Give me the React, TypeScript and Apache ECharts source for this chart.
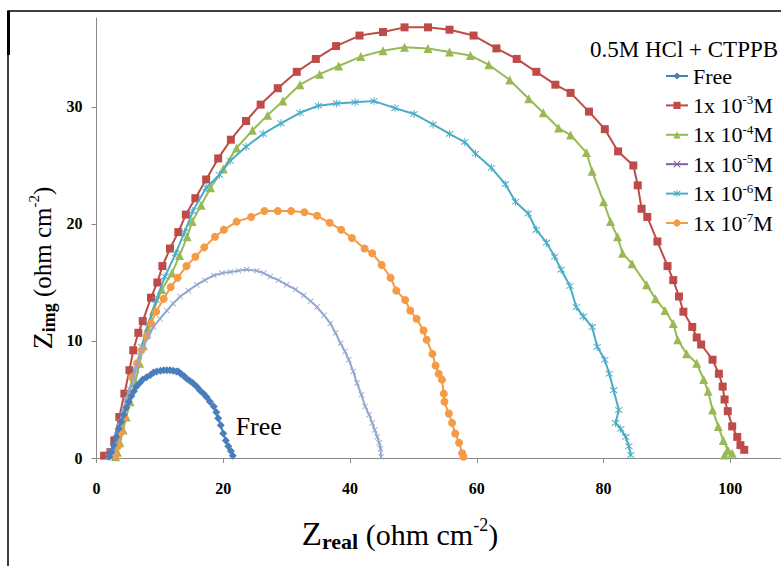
import React, { useEffect, useRef } from 'react';
import * as echarts from 'echarts';

const FONT = "'Liberation Serif', 'Times New Roman', serif";

const titleText = '0.5M HCl + CTPPB';
const seriesNames = ['Free', '1x 10-3M', '1x 10-4M', '1x 10-5M', '1x 10-6M', '1x 10-7M'];
const xTickValues = [0, 20, 40, 60, 80, 100];
const yTickValues = [0, 10, 20, 30];

const freeData = [
  [2.0, 0.1], [2.3, 0.5], [2.7, 1.1], [3.1, 1.8], [3.5, 2.5], [3.9, 3.1], [4.3, 3.7], [4.7, 4.3],
  [5.1, 4.8], [5.5, 5.3], [5.9, 5.7], [6.3, 6.1], [6.8, 6.4], [7.3, 6.7], [7.9, 6.9], [8.5, 7.1],
  [9.0, 7.3], [9.5, 7.4], [10.1, 7.45], [10.6, 7.5], [11.1, 7.5], [11.6, 7.5], [12.1, 7.45], [12.6, 7.4],
  [12.9, 7.4], [13.3, 7.2], [13.8, 7.0], [14.2, 6.8], [14.7, 6.6], [15.2, 6.4], [15.8, 6.1], [16.3, 5.8],
  [16.9, 5.5], [17.4, 5.2], [17.9, 4.8], [18.5, 4.4], [18.9, 3.9], [19.2, 3.4], [19.6, 2.8], [20.0, 2.1],
  [20.4, 1.5], [20.8, 1.0], [21.2, 0.6], [21.5, 0.2],
];

const m3Data = [
  [1.2, 0.2], [2.2, 0.5], [2.8, 1.5], [3.6, 3.5], [4.4, 5.5], [5.2, 7.5], [5.8, 9.2], [6.6, 10.7],
  [7.3, 11.7], [8.6, 13.7], [9.6, 15.0], [10.4, 16.4], [11.6, 17.9], [12.9, 19.3], [14.1, 20.8], [15.6, 22.2],
  [17.3, 23.8], [19.2, 25.6], [21.2, 27.2], [23.6, 28.8], [25.9, 30.2], [28.6, 31.6], [31.6, 33.0], [34.6, 34.1],
  [37.8, 35.2], [41.5, 36.1], [45.2, 36.4], [48.6, 36.8], [52.3, 36.8], [55.7, 36.6], [59.5, 36.1], [63.1, 35.0],
  [66.3, 34.1], [69.4, 33.0], [72.4, 31.9], [74.8, 31.2], [77.7, 29.6], [80.2, 28.1], [82.3, 26.2], [84.7, 25.0],
  [85.4, 23.3], [86.0, 21.3], [86.9, 20.6], [88.5, 18.5], [90.1, 16.4], [91.0, 15.2], [91.9, 13.8], [92.6, 12.5],
  [94.0, 11.2], [94.7, 10.3], [95.4, 9.7], [97.2, 8.4], [98.2, 7.2], [98.8, 6.1], [99.1, 5.0], [99.6, 4.0],
  [100.3, 2.7], [101.1, 1.8], [101.6, 1.1], [102.2, 0.7],
];

const m4Data = [
  [3.0, 0.1], [3.3, 0.5], [3.7, 1.3], [4.2, 2.4], [4.7, 3.5], [5.3, 4.8], [6.1, 6.4], [6.8, 8.1],
  [7.4, 9.6], [8.1, 11.1], [9.0, 12.6], [10.3, 14.4], [11.9, 15.8], [13.1, 17.3], [14.3, 18.9], [15.1, 20.2],
  [16.5, 21.6], [18.0, 23.1], [20.0, 24.7], [22.1, 26.5], [24.6, 28.0], [27.0, 29.3], [29.4, 30.5], [32.1, 31.9],
  [35.2, 32.8], [38.2, 33.5], [41.7, 34.3], [45.2, 34.8], [48.6, 35.1], [52.3, 35.0], [55.7, 34.7], [59.0, 34.4],
  [61.9, 33.6], [65.2, 32.3], [68.2, 30.7], [70.5, 29.5], [72.9, 28.2], [74.8, 27.6], [77.3, 26.1], [78.2, 24.5],
  [80.0, 21.9], [81.1, 20.2], [82.2, 18.9], [83.0, 17.5], [84.5, 16.6], [86.8, 14.8], [88.2, 13.6], [89.7, 12.6],
  [91.0, 11.5], [91.7, 10.1], [93.1, 8.9], [94.7, 8.1], [95.8, 6.7], [96.5, 5.7], [97.2, 4.1], [98.1, 2.7],
  [98.9, 1.5], [99.6, 0.7], [100.3, 0.4], [99.1, 0.26],
];

const m5Data = [
  [1.8, 0.1], [2.2, 0.5], [2.7, 1.0], [3.2, 2.0], [3.7, 3.1], [4.2, 4.1], [4.7, 5.0], [5.2, 5.9],
  [5.8, 6.9], [6.3, 7.8], [6.8, 8.7], [7.4, 9.5], [8.2, 10.4], [9.0, 11.2], [10.0, 11.9], [11.1, 12.6],
  [12.1, 13.2], [13.2, 13.8], [14.5, 14.3], [15.8, 14.8], [17.1, 15.2], [18.5, 15.6], [19.8, 15.8], [21.1, 15.9],
  [22.4, 16.0], [23.7, 16.1], [25.3, 16.0], [26.4, 15.8], [27.4, 15.5], [28.7, 15.2], [30.0, 14.8], [31.4, 14.4],
  [32.7, 13.9], [33.8, 13.4], [34.8, 12.9], [35.9, 12.2], [36.9, 11.5], [37.7, 10.7], [38.5, 9.8], [39.2, 9.1],
  [39.8, 8.4], [40.5, 7.4], [41.1, 6.4], [41.8, 5.4], [42.4, 4.4], [43.0, 3.7], [43.5, 3.0], [43.9, 2.4],
  [44.3, 1.8], [44.6, 1.3], [44.8, 0.8], [44.9, 0.1],
];

const m6Data = [
  [2.5, 0.2], [2.8, 0.6], [3.4, 1.8], [4.2, 3.5], [5.1, 5.5], [6.1, 7.5], [7.1, 9.5], [8.2, 11.5],
  [9.4, 13.5], [10.8, 15.5], [12.5, 17.5], [13.9, 19.3], [15.2, 21.1], [17.3, 23.1], [19.4, 24.2], [21.1, 25.4],
  [23.6, 26.6], [26.3, 27.7], [29.1, 28.6], [32.1, 29.5], [35.0, 30.1], [37.9, 30.3], [40.8, 30.4], [43.8, 30.5],
  [47.1, 29.9], [50.1, 29.4], [53.1, 28.5], [55.7, 27.7], [58.1, 27.0], [59.8, 26.0], [62.3, 24.8], [64.5, 23.4],
  [66.1, 21.9], [68.1, 20.9], [69.4, 19.5], [71.0, 18.4], [72.3, 17.2], [73.3, 16.1], [74.7, 14.7], [75.7, 12.9],
  [76.8, 12.1], [78.2, 11.2], [79.0, 9.5], [80.2, 8.4], [80.9, 7.2], [81.6, 5.8], [82.4, 4.1], [81.9, 3.0],
  [82.7, 2.5], [83.5, 1.8], [84.0, 1.0], [84.3, 0.26],
];

const m7Data = [
  [3.0, 0.2], [3.4, 1.0], [3.9, 2.2], [4.4, 3.4], [5.0, 5.0], [5.6, 6.9], [6.4, 8.1], [7.1, 9.2],
  [7.9, 10.4], [8.6, 11.5], [9.4, 12.5], [10.6, 13.6], [11.7, 14.6], [12.8, 15.4], [14.2, 16.4], [15.6, 17.2],
  [17.0, 18.0], [18.7, 18.9], [20.1, 19.5], [22.1, 20.2], [24.4, 20.6], [26.5, 21.1], [28.6, 21.1], [30.7, 21.1],
  [32.8, 21.0], [34.8, 20.7], [36.8, 20.1], [38.6, 19.5], [40.3, 18.8], [42.3, 17.9], [43.5, 17.5], [45.0, 16.5],
  [46.4, 15.4], [47.3, 14.3], [48.7, 13.5], [49.5, 12.6], [50.5, 11.9], [51.6, 10.9], [52.1, 10.1], [53.0, 8.9],
  [53.5, 7.9], [54.0, 7.2], [54.5, 6.7], [54.8, 5.5], [54.9, 4.8], [55.6, 3.8], [56.1, 3.0], [56.6, 2.1],
  [57.2, 1.3], [57.7, 0.4], [57.9, 0.1],
];

const freeLabelPos = [25.6, 2.7];

const X_SYMBOL = 'path://M1,0L5,4L9,0L10,1L6,5L10,9L9,10L5,6L1,10L0,9L4,5L0,1Z';
const STAR_SYMBOL = 'path://M1,0L5,4L9,0L10,1L6,5L10,9L9,10L5,6L1,10L0,9L4,5L0,1Z M4.4,-1.5L5.6,-1.5L5.6,11.5L4.4,11.5Z';

export default function App() {
  const ref = useRef<HTMLDivElement>(null);

  useEffect(() => {
    if (!ref.current) return;
    const chart = echarts.init(ref.current, undefined, { renderer: 'svg' });

    const mkSeries = (name: string, data: number[][], color: string, symbol: string, size: number, z: number, extra: any = {}) => ({
      name,
      type: 'line',
      data,
      symbol,
      symbolSize: size,
      z,
      lineStyle: { color, width: 2 },
      itemStyle: { color },
      emphasis: { disabled: true },
      ...extra,
    });

    const supRich = {
      n: { fontFamily: FONT, fontSize: 22, lineHeight: 24, color: '#000' },
      s: { fontFamily: FONT, fontSize: 13, lineHeight: 13, verticalAlign: 'top', color: '#000' },
    };

    const xTitleRich = {
      z: { fontFamily: FONT, fontSize: 33, lineHeight: 36, color: '#000' },
      b: { fontFamily: FONT, fontSize: 22, fontWeight: 'bold', lineHeight: 16, verticalAlign: 'bottom', color: '#000' },
      t: { fontFamily: FONT, fontSize: 30, lineHeight: 36, color: '#000' },
      s: { fontFamily: FONT, fontSize: 18, lineHeight: 18, verticalAlign: 'top', color: '#000' },
    };

    const yTitleRich = {
      z: { fontFamily: FONT, fontSize: 28, lineHeight: 32, color: '#000' },
      b: { fontFamily: FONT, fontSize: 18, fontWeight: 'bold', lineHeight: 14, verticalAlign: 'bottom', color: '#000' },
      t: { fontFamily: FONT, fontSize: 25, lineHeight: 32, color: '#000' },
      s: { fontFamily: FONT, fontSize: 15, lineHeight: 15, verticalAlign: 'top', color: '#000' },
    };

    const option: any = {
      animation: false,
      backgroundColor: '#fff',
      title: {
        text: titleText,
        left: 590,
        top: 38,
        padding: 0,
        textStyle: { fontFamily: FONT, fontSize: 23, fontWeight: 'normal', color: '#000' },
      },
      legend: {
        orient: 'vertical',
        left: 665,
        top: 65,
        padding: 0,
        itemWidth: 22,
        itemHeight: 9,
        itemGap: 6.4,
        selectedMode: false,
        data: seriesNames.map((n, i) =>
          i === 3
            ? { name: n, itemStyle: { color: '#7F60A0' }, lineStyle: { color: '#7F60A0' } }
            : { name: n }
        ),
        formatter: (name: string) => {
          const m = name.match(/^1x 10(-\d)M$/);
          if (m) return `{n|1x 10}{s|${m[1]}}{n|M}`;
          return `{n|${name}}`;
        },
        textStyle: { fontFamily: FONT, fontSize: 22, color: '#000', rich: supRich },
      },
      grid: { left: 96.5, right: 0, top: 18, bottom: 108, containLabel: false },
      xAxis: {
        type: 'value',
        min: 0,
        max: 108,
        interval: 20,
        splitLine: { show: false },
        axisLine: { lineStyle: { color: '#8a8a8a', width: 1 } },
        axisTick: { show: true, length: 5, lineStyle: { color: '#8a8a8a' }, customValues: xTickValues },
        axisLabel: {
          customValues: xTickValues,
          margin: 22,
          fontFamily: FONT,
          fontSize: 16,
          fontWeight: 'bold',
          color: '#000',
        },
      },
      yAxis: {
        type: 'value',
        min: 0,
        max: 37.6,
        interval: 10,
        splitLine: { show: false },
        axisLine: { show: true, lineStyle: { color: '#8a8a8a', width: 1 } },
        axisTick: { show: true, length: 5, lineStyle: { color: '#8a8a8a' }, customValues: yTickValues },
        axisLabel: {
          customValues: yTickValues,
          margin: 14,
          fontFamily: FONT,
          fontSize: 16,
          fontWeight: 'bold',
          color: '#000',
        },
      },
      series: [
        mkSeries(seriesNames[0], freeData, '#4A7EBB', 'diamond', 8, 8, {
          markPoint: {
            symbol: 'rect',
            symbolSize: 1,
            itemStyle: { color: 'rgba(0,0,0,0)' },
            label: {
              show: true,
              position: 'inside',
              formatter: 'Free',
              fontFamily: FONT,
              fontSize: 26,
              color: '#000',
            },
            data: [{ coord: freeLabelPos }],
          },
        }),
        mkSeries(seriesNames[1], m3Data, '#BE4B48', 'rect', 8, 2),
        mkSeries(seriesNames[2], m4Data, '#98B954', 'triangle', 9, 3),
        mkSeries(seriesNames[3], m5Data, '#93A8CF', X_SYMBOL, 6, 6),
        mkSeries(seriesNames[4], m6Data, '#4BACC6', STAR_SYMBOL, 8, 4),
        mkSeries(seriesNames[5], m7Data, '#F59A45', 'circle', 8, 5),
      ],
      graphic: [
        {
          type: 'rect',
          silent: true,
          shape: { x: 8, y: 11, width: 800, height: 600 },
          style: { fill: 'none', stroke: '#000', lineWidth: 1.5 },
        },
        {
          type: 'rect',
          silent: true,
          shape: { x: 7, y: 11, width: 3, height: 44 },
          style: { fill: '#000' },
        },
        {
          type: 'text',
          silent: true,
          x: 400,
          y: 534,
          style: {
            text: '{z|Z}{b|real}{t| (ohm cm}{s|-2}{t|)}',
            rich: xTitleRich,
            align: 'center',
            verticalAlign: 'middle',
          },
        },
        {
          type: 'text',
          silent: true,
          x: 42,
          y: 268,
          rotation: Math.PI / 2,
          style: {
            text: '{z|Z}{b|img}{t| (ohm cm}{s|-2}{t|)}',
            rich: yTitleRich,
            align: 'center',
            verticalAlign: 'middle',
          },
        },
      ],
    };

    chart.setOption(option);
    return () => chart.dispose();
  }, []);

  return (
    <div
      ref={ref}
      style={{ position: 'fixed', left: 0, top: 0, width: 781, height: 566, background: '#fff' }}
    />
  );
}
